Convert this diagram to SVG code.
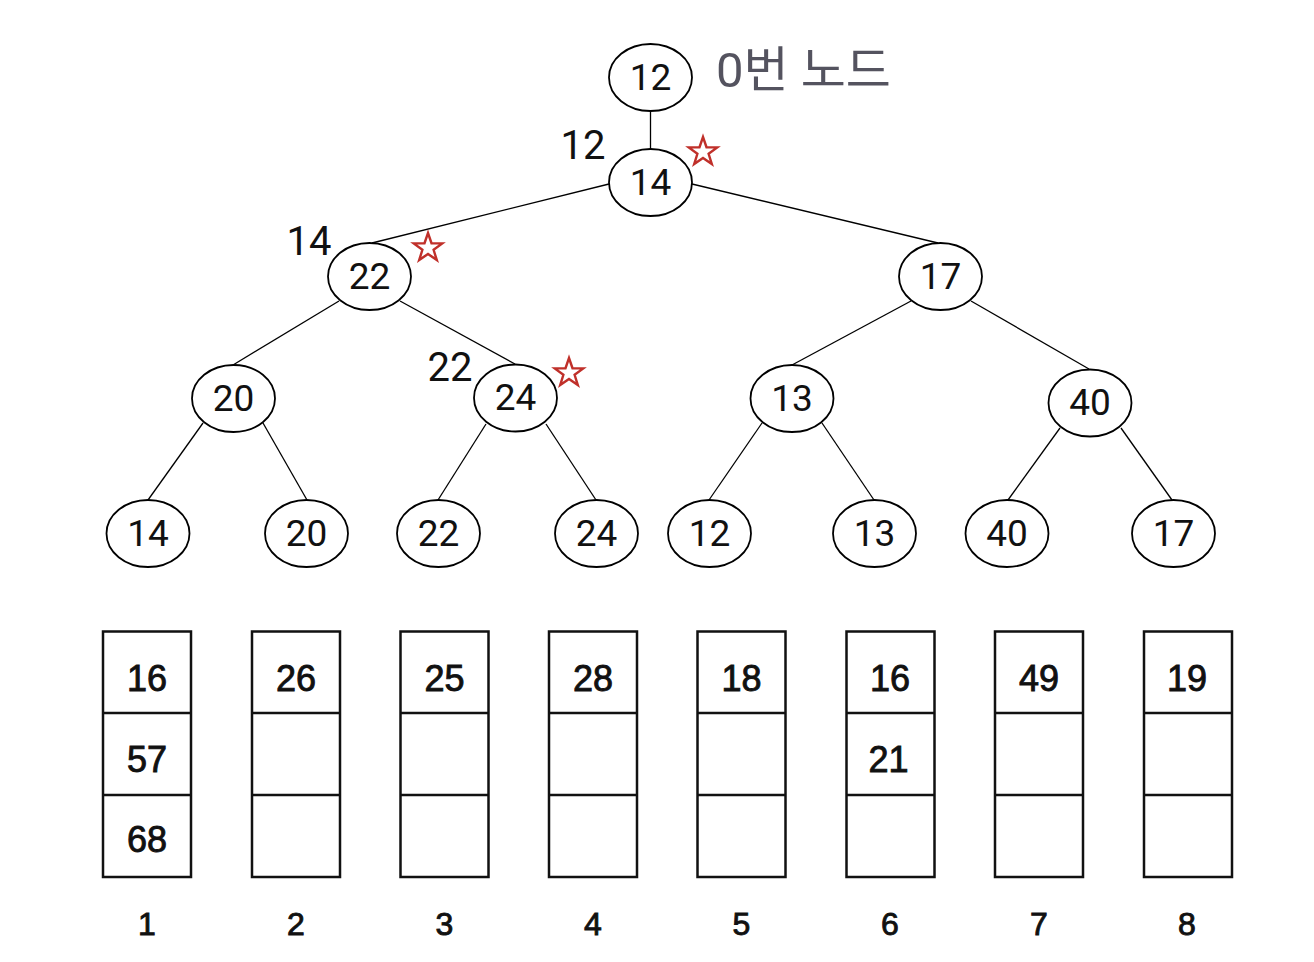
<svg xmlns="http://www.w3.org/2000/svg" width="1314" height="962" viewBox="0 0 1314 962">
<defs>
<style>
.n ellipse{fill:#fff;stroke:#000;stroke-width:1.8}
.n text{font-family:Roboto,"Noto Sans",sans-serif;font-size:37px;text-anchor:middle;fill:#111}
.e line{stroke:#000;stroke-width:1.3}
.lbl{font-family:Roboto,"Noto Sans",sans-serif;font-size:40px;text-anchor:middle;fill:#111}
.star{fill:#fff;stroke:#c0302a;stroke-width:2.4;stroke-linejoin:miter}
.b rect,.b line{fill:none;stroke:#111;stroke-width:2.5}
.b text{font-family:"Liberation Sans",Arial,sans-serif;font-size:36px;text-anchor:middle;fill:#111;stroke:#111;stroke-width:0.9}
.idx{font-family:"Liberation Sans",Arial,sans-serif;font-size:32px;text-anchor:middle;fill:#111;stroke:#111;stroke-width:0.9}
</style>
<polygon id="starShape" points="0,-15 3.5,-4.8 14.3,-4.6 5.6,1.8 8.8,12.1 0,5.9 -8.8,12.1 -5.6,1.8 -14.3,-4.6 -3.5,-4.8"/>
</defs>
<rect width="1314" height="962" fill="#fff"/>

<g id="connectors" class="e">
<line x1="650.5" y1="111" x2="650.5" y2="149"/>
<line x1="609" y1="184" x2="372" y2="243"/>
<line x1="692" y1="184" x2="938" y2="243"/>
<line x1="339" y1="301" x2="233" y2="365"/>
<line x1="400" y1="301" x2="515" y2="364"/>
<line x1="911" y1="301" x2="792" y2="365"/>
<line x1="971" y1="301" x2="1089" y2="369"/>
<line x1="203" y1="423" x2="148" y2="500"/>
<line x1="263" y1="423" x2="307" y2="500"/>
<line x1="486" y1="424" x2="438" y2="500"/>
<line x1="546" y1="424" x2="596" y2="500"/>
<line x1="762" y1="423" x2="709" y2="500"/>
<line x1="822" y1="423" x2="874" y2="500"/>
<line x1="1060" y1="428" x2="1008" y2="500"/>
<line x1="1121" y1="428" x2="1172" y2="500"/>
</g>

<g id="node-root" class="n"><ellipse cx="650.5" cy="77.5" rx="41.5" ry="33.5"/><text x="650.5" y="89.5">12</text></g>
<g id="node-14" class="n"><ellipse cx="650.5" cy="182.5" rx="41.5" ry="33.5"/><text x="650.5" y="194.5">14</text></g>
<g id="node-22" class="n"><ellipse cx="369.5" cy="276.5" rx="41.5" ry="33.5"/><text x="369.5" y="288.5">22</text></g>
<g id="node-17" class="n"><ellipse cx="940.5" cy="276.5" rx="41.5" ry="33.5"/><text x="940.5" y="288.5">17</text></g>
<g id="node-20" class="n"><ellipse cx="233.5" cy="398.5" rx="41.5" ry="33.5"/><text x="233.5" y="410.5">20</text></g>
<g id="node-24" class="n"><ellipse cx="515.5" cy="398" rx="41.5" ry="33.5"/><text x="515.5" y="410">24</text></g>
<g id="node-13" class="n"><ellipse cx="792" cy="398.5" rx="41.5" ry="33.5"/><text x="792" y="410.5">13</text></g>
<g id="node-40" class="n"><ellipse cx="1090" cy="403" rx="41.5" ry="33.5"/><text x="1090" y="415">40</text></g>
<g id="leaf-14" class="n"><ellipse cx="148" cy="533.5" rx="41.5" ry="33.5"/><text x="148" y="545.5">14</text></g>
<g id="leaf-20" class="n"><ellipse cx="306.5" cy="533.5" rx="41.5" ry="33.5"/><text x="306.5" y="545.5">20</text></g>
<g id="leaf-22" class="n"><ellipse cx="438.5" cy="533.5" rx="41.5" ry="33.5"/><text x="438.5" y="545.5">22</text></g>
<g id="leaf-24" class="n"><ellipse cx="596.5" cy="533.5" rx="41.5" ry="33.5"/><text x="596.5" y="545.5">24</text></g>
<g id="leaf-12" class="n"><ellipse cx="709.5" cy="533.5" rx="41.5" ry="33.5"/><text x="709.5" y="545.5">12</text></g>
<g id="leaf-13" class="n"><ellipse cx="874.5" cy="533.5" rx="41.5" ry="33.5"/><text x="874.5" y="545.5">13</text></g>
<g id="leaf-40" class="n"><ellipse cx="1007" cy="533.5" rx="41.5" ry="33.5"/><text x="1007" y="545.5">40</text></g>
<g id="leaf-17" class="n"><ellipse cx="1173.5" cy="533.5" rx="41.5" ry="33.5"/><text x="1173.5" y="545.5">17</text></g>

<g id="labels">
<text x="716" y="87" font-family="Roboto,'Noto Sans CJK KR',sans-serif" font-size="49" fill="#54535f">0번 노드</text>
<text class="lbl" x="583" y="159">12</text>
<text class="lbl" x="309" y="255">14</text>
<text class="lbl" x="450" y="381">22</text>
<use href="#starShape" class="star" x="703" y="152"/>
<use href="#starShape" class="star" x="428" y="248"/>
<use href="#starShape" class="star" x="569" y="373"/>
</g>

<g id="box-1" class="b"><rect x="103" y="631.5" width="88" height="245.5"/><line x1="103" y1="713" x2="191" y2="713"/><line x1="103" y1="795" x2="191" y2="795"/><text x="147" y="691">16</text><text x="147" y="772">57</text><text x="147" y="852">68</text></g>
<g id="box-2" class="b"><rect x="252" y="631.5" width="88" height="245.5"/><line x1="252" y1="713" x2="340" y2="713"/><line x1="252" y1="795" x2="340" y2="795"/><text x="296" y="691">26</text></g>
<g id="box-3" class="b"><rect x="400.5" y="631.5" width="88" height="245.5"/><line x1="400.5" y1="713" x2="488.5" y2="713"/><line x1="400.5" y1="795" x2="488.5" y2="795"/><text x="444.5" y="691">25</text></g>
<g id="box-4" class="b"><rect x="549" y="631.5" width="88" height="245.5"/><line x1="549" y1="713" x2="637" y2="713"/><line x1="549" y1="795" x2="637" y2="795"/><text x="593" y="691">28</text></g>
<g id="box-5" class="b"><rect x="697.5" y="631.5" width="88" height="245.5"/><line x1="697.5" y1="713" x2="785.5" y2="713"/><line x1="697.5" y1="795" x2="785.5" y2="795"/><text x="741.5" y="691">18</text></g>
<g id="box-6" class="b"><rect x="846.5" y="631.5" width="88" height="245.5"/><line x1="846.5" y1="713" x2="934.5" y2="713"/><line x1="846.5" y1="795" x2="934.5" y2="795"/><text x="890" y="691">16</text><text x="888.5" y="772">21</text></g>
<g id="box-7" class="b"><rect x="995" y="631.5" width="88" height="245.5"/><line x1="995" y1="713" x2="1083" y2="713"/><line x1="995" y1="795" x2="1083" y2="795"/><text x="1039" y="691">49</text></g>
<g id="box-8" class="b"><rect x="1144" y="631.5" width="88" height="245.5"/><line x1="1144" y1="713" x2="1232" y2="713"/><line x1="1144" y1="795" x2="1232" y2="795"/><text x="1187" y="691">19</text></g>

<g id="indices">
<text class="idx" x="147" y="935">1</text>
<text class="idx" x="296" y="935">2</text>
<text class="idx" x="444.5" y="935">3</text>
<text class="idx" x="593" y="935">4</text>
<text class="idx" x="741.5" y="935">5</text>
<text class="idx" x="890" y="935">6</text>
<text class="idx" x="1039" y="935">7</text>
<text class="idx" x="1187" y="935">8</text>
</g>
</svg>
